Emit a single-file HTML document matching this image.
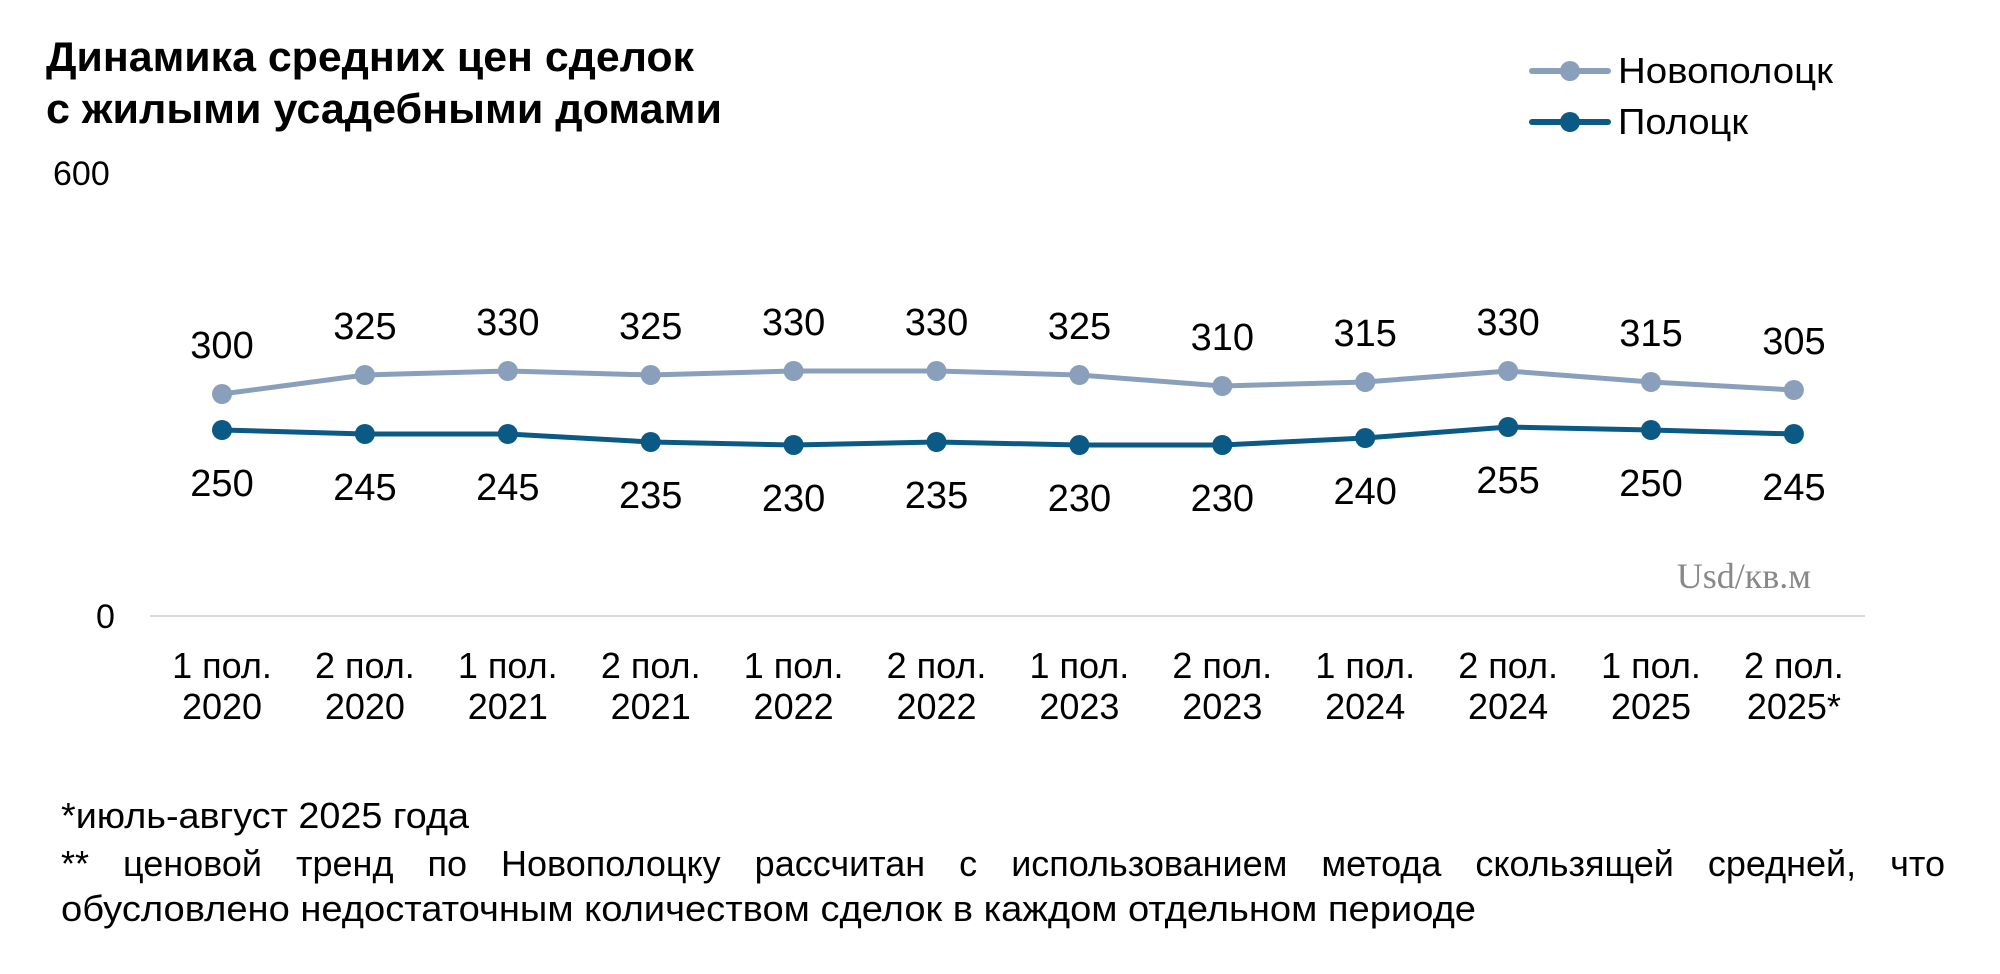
<!DOCTYPE html>
<html><head><meta charset="utf-8"><style>
html,body{margin:0;padding:0;background:#fff;}
svg{display:block;font-family:"Liberation Sans",sans-serif;}
.foot{position:absolute;left:61px;width:1884px;font-family:"Liberation Sans",sans-serif;font-size:36px;color:#000;line-height:46px;white-space:nowrap;}
</style></head><body>
<div style="position:relative;width:2000px;height:974px;overflow:hidden">
<svg width="2000" height="974" viewBox="0 0 2000 974">
<text x="46" y="71" font-size="42" font-weight="bold" textLength="648" lengthAdjust="spacingAndGlyphs">Динамика средних цен сделок</text>
<text x="46" y="123" font-size="42" font-weight="bold" textLength="676" lengthAdjust="spacingAndGlyphs">с жилыми усадебными домами</text>
<line x1="1532" y1="71" x2="1608" y2="71" stroke="#8a9fbb" stroke-width="6" stroke-linecap="round"/>
<circle cx="1570" cy="71" r="10" fill="#8a9fbb"/>
<text x="1618" y="83" font-size="36" textLength="215" lengthAdjust="spacingAndGlyphs">Новополоцк</text>
<line x1="1532" y1="122" x2="1608" y2="122" stroke="#0b5a85" stroke-width="6" stroke-linecap="round"/>
<circle cx="1570" cy="122" r="10" fill="#0b5a85"/>
<text x="1618" y="134" font-size="36" textLength="130" lengthAdjust="spacingAndGlyphs">Полоцк</text>
<text x="53" y="185" font-size="34">600</text>
<text x="96" y="628" font-size="34">0</text>
<line x1="150" y1="616" x2="1865" y2="616" stroke="#d9d9d9" stroke-width="2"/>
<text x="1811" y="588" font-size="36" fill="#888" text-anchor="end" font-family="Liberation Serif,serif">Usd/кв.м</text>
<g id="g"></g>
<text x="61" y="828" font-size="36" textLength="408" lengthAdjust="spacingAndGlyphs">*июль-август 2025 года</text>
<text x="61" y="921" font-size="36" textLength="1415" lengthAdjust="spacingAndGlyphs">обусловлено недостаточным количеством сделок в каждом отдельном периоде</text>
</svg>
<div class="foot" style="top:841px;text-align:justify;text-align-last:justify;white-space:normal">** ценовой тренд по Новополоцку рассчитан с использованием метода скользящей средней, что</div>
</div>
<script>
var n=[300,325,330,325,330,330,325,310,315,330,315,305],p=[250,245,245,235,230,235,230,230,240,255,250,245];
var lab=[["1 пол.","2020"],["2 пол.","2020"],["1 пол.","2021"],["2 пол.","2021"],["1 пол.","2022"],["2 пол.","2022"],["1 пол.","2023"],["2 пол.","2023"],["1 пол.","2024"],["2 пол.","2024"],["1 пол.","2025"],["2 пол.","2025*"]];
function X(i){return 222+i*142.9}
var s="";
var nY=[394,375,371,375,371,371,375,386,382,371,382,390],pY=[430,434,434,442,445,442,445,445,438,427,430,434];
s+='<polyline points="'+nY.map(function(y,i){return X(i)+","+y}).join(" ")+'" fill="none" stroke="#8a9fbb" stroke-width="5"/>';
s+='<polyline points="'+pY.map(function(y,i){return X(i)+","+y}).join(" ")+'" fill="none" stroke="#0b5a85" stroke-width="5"/>';
for(var i=0;i<12;i++){var x=X(i);
s+='<circle cx="'+x+'" cy="'+nY[i]+'" r="10" fill="#8a9fbb"/><circle cx="'+x+'" cy="'+pY[i]+'" r="10" fill="#0b5a85"/>';
s+='<text x="'+x+'" y="'+(nY[i]-36)+'" font-size="38" text-anchor="middle">'+n[i]+'</text>';
s+='<text x="'+x+'" y="'+(pY[i]+66)+'" font-size="38" text-anchor="middle">'+p[i]+'</text>';
s+='<text x="'+x+'" y="678" font-size="36" text-anchor="middle">'+lab[i][0]+'</text>';
s+='<text x="'+x+'" y="719" font-size="36" text-anchor="middle">'+lab[i][1]+'</text>';}
document.getElementById("g").innerHTML=s;
</script>
</body></html>
